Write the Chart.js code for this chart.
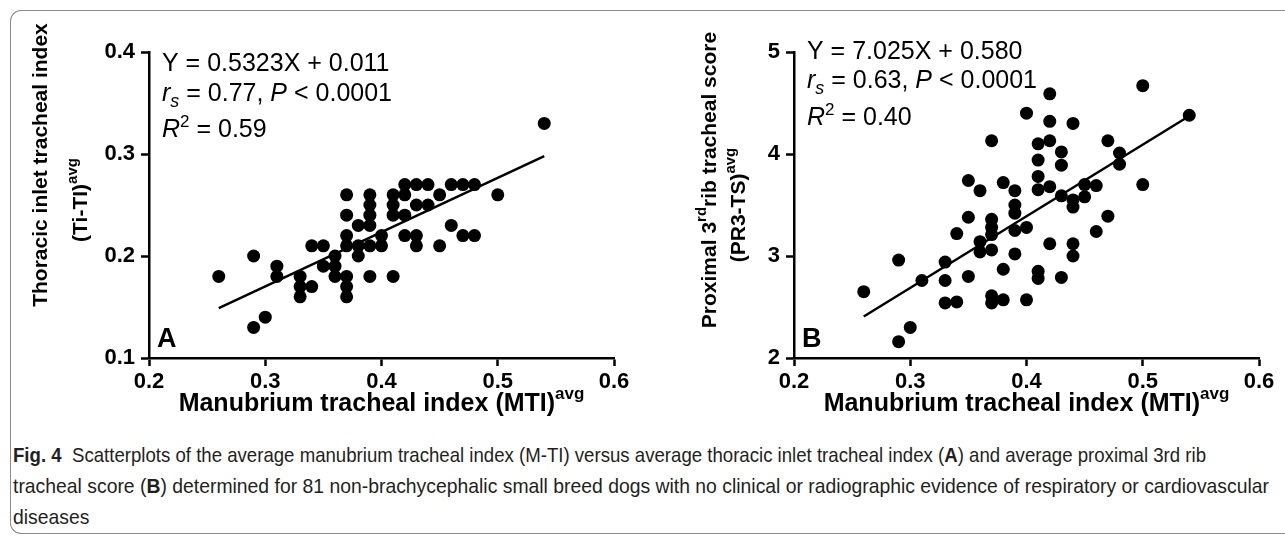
<!DOCTYPE html>
<html>
<head>
<meta charset="utf-8">
<script src="https://cdn.jsdelivr.net/npm/chart.js@4.4.0/dist/chart.umd.min.js"></script>
<style>
    html, body { margin: 0; padding: 0; background: #fff; width: 1285px; height: 538px; overflow: hidden; }
    #frame {
        position: absolute; left: 10px; top: 10px; width: 1320px; height: 522px;
        border: 1.5px solid #8c8c8c; border-right: none; border-radius: 11px 0 0 11px;
    }
    .panel { position: absolute; top: 0; }
    #panelA { left: 0; width: 640px; height: 420px; }
    #panelB { left: 640px; width: 645px; height: 420px; }
    #caption {
        position: absolute; left: 13px; top: 439px;
        font-family: "Liberation Sans", Arial, sans-serif;
        font-size: 21px; line-height: 31px; color: #231f20;
    }
    #caption .ln { display: block; white-space: nowrap; width: max-content; transform-origin: 0 50%; }
</style>
</head>
<body>
<div id="frame"></div>
<div class="panel" id="panelA"><canvas id="chartA"></canvas></div>
<div class="panel" id="panelB"><canvas id="chartB"></canvas></div>
<div id="caption">
    <span class="ln"><b>Fig. 4</b>&nbsp; Scatterplots of the average manubrium tracheal index (M-TI) versus average thoracic inlet tracheal index (<b>A</b>) and average proximal 3rd rib</span>
    <span class="ln">tracheal score (<b>B</b>) determined for 81 non-brachycephalic small breed dogs with no clinical or radiographic evidence of respiratory or cardiovascular</span>
    <span class="ln">diseases</span>
</div>

<script>
// --- data ---
const xTicks = [0.2, 0.3, 0.4, 0.5, 0.6];
const yTicksA = [0.1, 0.2, 0.3, 0.4];
const yTicksB = [2, 3, 4, 5];

// Panel A: MTI vs Ti-TI
const mtiA = [0.26, 0.29, 0.29, 0.30, 0.31, 0.31, 0.33, 0.33, 0.33, 0.34, 0.34, 0.35, 0.35,
    0.36, 0.36, 0.36, 0.37, 0.37, 0.37, 0.37, 0.37, 0.37, 0.37, 0.38, 0.38, 0.38,
    0.39, 0.39, 0.39, 0.39, 0.39, 0.39, 0.40, 0.40, 0.41, 0.41, 0.41, 0.41,
    0.42, 0.42, 0.42, 0.42, 0.43, 0.43, 0.43, 0.43, 0.44, 0.44, 0.45, 0.45,
    0.46, 0.46, 0.47, 0.47, 0.48, 0.48, 0.50, 0.54];
const titiA = [0.18, 0.20, 0.13, 0.14, 0.19, 0.18, 0.18, 0.17, 0.16, 0.21, 0.17, 0.21, 0.19,
    0.20, 0.19, 0.18, 0.26, 0.24, 0.22, 0.21, 0.18, 0.17, 0.16, 0.23, 0.21, 0.20,
    0.26, 0.25, 0.24, 0.23, 0.21, 0.18, 0.22, 0.21, 0.26, 0.25, 0.24, 0.18,
    0.27, 0.26, 0.24, 0.22, 0.27, 0.25, 0.22, 0.21, 0.27, 0.25, 0.26, 0.21,
    0.27, 0.23, 0.27, 0.22, 0.27, 0.22, 0.26, 0.33];
const fitXA = [0.26, 0.54];
const fitYA = [0.149, 0.298];

// Panel B: MTI vs PR3-TS
const mtiB = [0.26, 0.29, 0.29, 0.30, 0.31, 0.33, 0.33, 0.33, 0.34, 0.34, 0.35, 0.35, 0.35,
    0.36, 0.36, 0.36, 0.37, 0.37, 0.37, 0.37, 0.37, 0.37, 0.37, 0.38, 0.38, 0.38,
    0.39, 0.39, 0.39, 0.39, 0.39, 0.40, 0.40, 0.40, 0.41, 0.41, 0.41, 0.41, 0.41, 0.41,
    0.42, 0.42, 0.42, 0.42, 0.42, 0.43, 0.43, 0.43, 0.43, 0.44, 0.44, 0.44, 0.44, 0.44,
    0.45, 0.45, 0.46, 0.46, 0.47, 0.47, 0.48, 0.48, 0.50, 0.50, 0.54];
const pr3B = [2.65, 2.96, 2.16, 2.30, 2.76, 2.94, 2.76, 2.54, 3.22, 2.55, 3.74, 3.38, 2.80,
    3.64, 3.14, 3.04, 4.13, 3.36, 3.28, 3.21, 3.06, 2.61, 2.54, 3.72, 2.87, 2.57,
    3.64, 3.50, 3.42, 3.25, 3.02, 4.40, 3.28, 2.57, 4.10, 3.94, 3.78, 3.65, 2.85, 2.78,
    4.59, 4.32, 4.13, 3.68, 3.12, 4.02, 3.89, 3.59, 2.79, 4.30, 3.55, 3.48, 3.12, 3.00,
    3.70, 3.58, 3.69, 3.24, 4.13, 3.39, 4.01, 3.90, 4.67, 3.70, 4.38];
const fitXB = [0.26, 0.54];
const fitYB = [2.407, 4.373];

const FONT = '"Liberation Sans", Arial, sans-serif';

// caption is set in a condensed face in the original; squeeze each line to its width
const capWidths = [1193, 1256];
const capLines = document.querySelectorAll('#caption .ln');
let capScale = 1;
capLines.forEach((el, i) => {
    const w = el.getBoundingClientRect().width;
    if (capWidths[i]) capScale = capWidths[i] / w;
    el.style.transform = 'scaleX(' + (capWidths[i] ? capWidths[i] / w : capScale) + ')';
});

// draw a run of text pieces (supports sub/superscript), returns width
function drawRuns(ctx, x, y, runs, align) {
    let total = 0;
    runs.forEach(r => { ctx.font = r.font; total += ctx.measureText(r.t).width; });
    let cx = align === 'center' ? x - total / 2 : x;
    runs.forEach(r => {
        ctx.font = r.font;
        ctx.fillText(r.t, cx, y + (r.dy || 0));
        cx += ctx.measureText(r.t).width;
    });
    return total;
}

const N = (s) => s + 'px ' + FONT;
const I = (s) => 'italic ' + s + 'px ' + FONT;
const B = (s) => 'bold ' + s + 'px ' + FONT;

// text decorations for each panel
const textPlugin = {
    id: 'figText',
    afterDraw(chart, args, opts) {
        const ctx = chart.ctx;
        const area = chart.chartArea;
        ctx.save();
        ctx.fillStyle = '#000';
        ctx.textBaseline = 'alphabetic';
        ctx.textAlign = 'left';

        // equation block
        const ax = opts.annX, ay = opts.annY;
        drawRuns(ctx, ax, ay[0], [{ t: opts.eq, font: N(25) }]);
        drawRuns(ctx, ax, ay[1], [
            { t: 'r', font: I(25) }, { t: 's', font: I(18), dy: 6 },
            { t: ' = ' + opts.rs + ', ', font: N(25) }, { t: 'P', font: I(25) },
            { t: ' < 0.0001', font: N(25) }
        ]);
        drawRuns(ctx, ax, ay[2], [
            { t: 'R', font: I(25) }, { t: '2', font: N(17), dy: -10 },
            { t: ' = ' + opts.r2, font: N(25) }
        ]);

        // panel letter
        drawRuns(ctx, area.left + 8, area.bottom - 11, [{ t: opts.letter, font: B(27) }]);

        // x title
        const xc = (area.left + area.right) / 2;
        drawRuns(ctx, xc, 411, [
            { t: 'Manubrium tracheal index (MTI)', font: B(25) },
            { t: 'avg', font: B(17), dy: -12 }
        ], 'center');

        // y title (rotated, two lines)
        ctx.save();
        ctx.translate(opts.yLine1X, opts.yLine1Y);
        ctx.rotate(-Math.PI / 2);
        drawRuns(ctx, 0, 0, opts.yLine1, 'center');
        ctx.restore();
        ctx.save();
        ctx.translate(opts.yLine2X, opts.yLine2Y);
        ctx.rotate(-Math.PI / 2);
        drawRuns(ctx, 0, 0, opts.yLine2, 'center');
        ctx.restore();

        ctx.restore();
    }
};

function axisStyle() {
    return {
        grid: { display: true, drawOnChartArea: false, drawTicks: true, tickLength: 8, tickWidth: 2.5, tickColor: '#000' },
        border: { display: true, color: '#000', width: 2.5 },
        ticks: { color: '#000', font: { family: FONT, size: 22, weight: 'bold' } }
    };
}

function makeChart(id, xs, ys, fx, fy, yTicks, yMin, yMax, yFmt, leftW, text) {
    const pts = xs.map((x, i) => ({ x: x, y: ys[i] }));
    const line = fx.map((x, i) => ({ x: x, y: fy[i] }));
    const xAxis = axisStyle();
    const yAxis = axisStyle();
    return new Chart(document.getElementById(id), {
        type: 'scatter',
        data: {
            datasets: [{
                data: pts, pointRadius: 6.5, pointHoverRadius: 6.5,
                backgroundColor: '#000', borderColor: '#000', borderWidth: 0
            }, {
                type: 'line', data: line, borderColor: '#000', borderWidth: 2.5,
                pointRadius: 0, fill: false
            }]
        },
        options: {
            responsive: true, maintainAspectRatio: false, animation: false,
            layout: { padding: { top: 52, right: 26, left: 0, bottom: 0 } },
            plugins: { legend: { display: false }, tooltip: { enabled: false }, figText: text },
            scales: {
                x: Object.assign(xAxis, {
                    type: 'linear', min: 0.2, max: 0.6,
                    afterBuildTicks: s => { s.ticks = xTicks.map(v => ({ value: v })); },
                    afterFit: s => { s.height = 62; },
                    ticks: Object.assign(xAxis.ticks, { padding: 3, callback: v => v.toFixed(1) })
                }),
                y: Object.assign(yAxis, {
                    type: 'linear', min: yMin, max: yMax,
                    afterBuildTicks: s => { s.ticks = yTicks.map(v => ({ value: v })); },
                    afterFit: s => { s.width = leftW; },
                    ticks: Object.assign(yAxis.ticks, { padding: 6, callback: yFmt })
                })
            }
        },
        plugins: [textPlugin]
    });
}

makeChart('chartA', mtiA, titiA, fitXA, fitYA, yTicksA, 0.1, 0.4, v => v.toFixed(1), 149, {
    eq: 'Y = 0.5323X + 0.011', rs: '0.77', r2: '0.59', letter: 'A',
    annX: 162, annY: [71, 101, 137],
    yLine1X: 47, yLine1Y: 165, yLine2X: 87, yLine2Y: 200,
    yLine1: [{ t: 'Thoracic inlet tracheal index', font: B(21) }],
    yLine2: [{ t: '(Ti-TI)', font: B(21) }, { t: 'avg', font: B(15), dy: -10 }]
});

makeChart('chartB', mtiB, pr3B, fitXB, fitYB, yTicksB, 2, 5, v => String(v), 154, {
    eq: 'Y = 7.025X + 0.580', rs: '0.63', r2: '0.40', letter: 'B',
    annX: 167, annY: [59, 88, 125],
    yLine1X: 76, yLine1Y: 180, yLine2X: 105, yLine2Y: 205,
    yLine1: [{ t: 'Proximal 3', font: B(21) }, { t: 'rd', font: B(15), dy: -10 }, { t: 'rib tracheal score', font: B(21) }],
    yLine2: [{ t: '(PR3-TS)', font: B(21) }, { t: 'avg', font: B(15), dy: -10 }]
});
</script>
</body>
</html>
